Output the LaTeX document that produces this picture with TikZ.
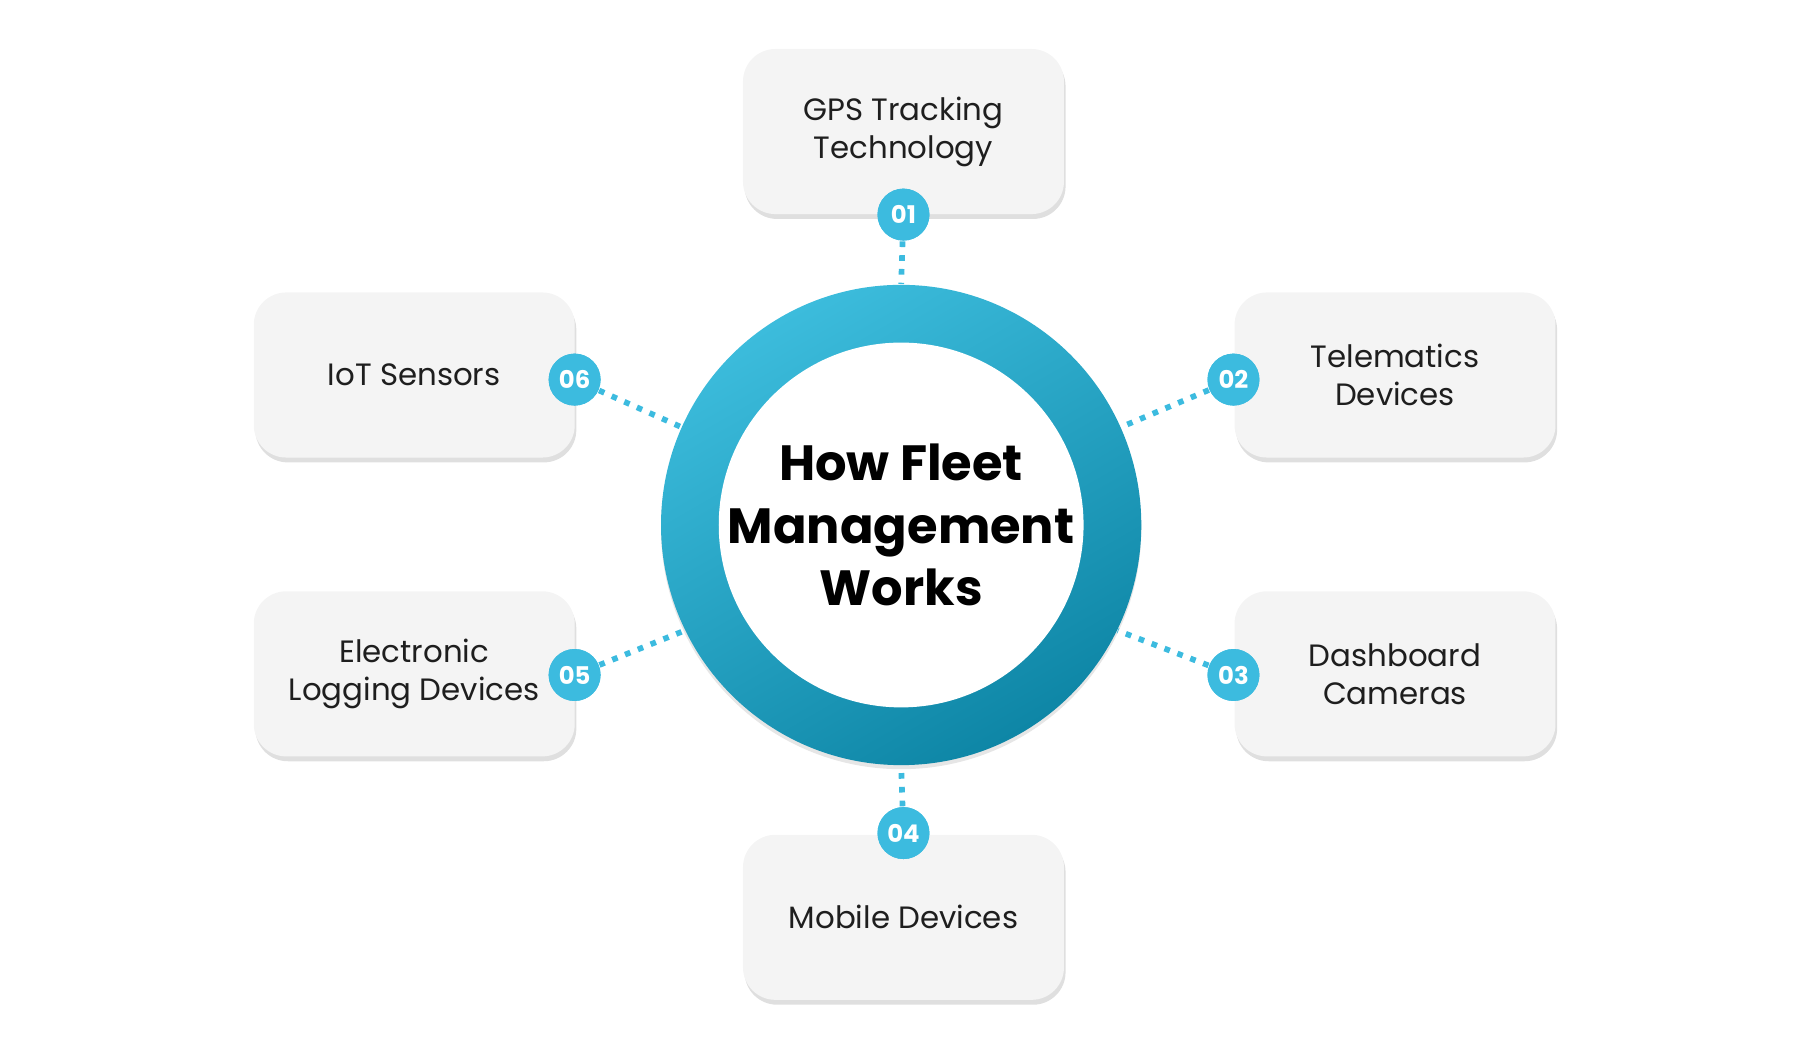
\documentclass[tikz,border=0pt]{standalone}
\usepackage{fontspec}
\setmainfont{Poppins}
\usetikzlibrary{shadows}
\definecolor{ringlight}{HTML}{3CBCDC}
\definecolor{ringdark}{HTML}{0E86A6}
\definecolor{badgecol}{HTML}{3CBBDF}
\definecolor{boxcol}{HTML}{F4F4F4}
\definecolor{txtcol}{HTML}{1E1E1E}
\tikzstyle{card}=[rectangle,rounded corners=8pt,fill=boxcol,minimum width=2.78cm,minimum height=1.43cm,
  align=center,font=\fontsize{7.6}{9.4}\selectfont,text=txtcol,
  drop shadow={opacity=0.25,shadow xshift=0.4pt,shadow yshift=-1.2pt}]
\tikzstyle{badge}=[circle,fill=badgecol,minimum size=0.45cm,inner sep=0,text=white,
  font=\fontsize{6}{7}\selectfont\bfseries]
\tikzstyle{link}=[badgecol,line width=1.4pt,dotted]

\begin{document}
\begin{tikzpicture}[x=0.01cm,y=-0.01cm]
  \useasboundingbox (0,0) rectangle (1560,901);

  % RING
  \node[circle,minimum size=4.16cm,inner sep=0,top color=ringlight,bottom color=ringdark,
        shading angle=30,drop shadow={opacity=0.2,shadow yshift=-1pt,shadow xshift=0pt}] (hub) at (781,455) {};
  \node[circle,fill=white,minimum size=3.16cm,inner sep=0] (core) at (hub) {};
  \node[align=center,text=black,font=\fontsize{12.2}{15.4}\selectfont\bfseries] (title) at (core)
        {How Fleet\\Management\\Works};

  % CARDS
  \node[card] (gps)  at (783,114) {GPS Tracking\\Technology};
  \node[card] (tel)  at (1209,325) {Telematics\\Devices};
  \node[card] (dash) at (1209,584) {Dashboard\\Cameras};
  \node[card] (mob)  at (783,795) {Mobile Devices};
  \node[card] (eld)  at (359,584) {Electronic\\Logging Devices};
  \node[card] (iot)  at (359,325) {IoT Sensors};

  % BADGES
  \foreach \name/\x/\y/\ang [count=\i] in {b1/783/186/90, b2/1069/329/24, b3/1069/585/-26,
                                          b4/783/722/-90, b5/498/585/206, b6/498/329/156}{
    \node[badge] (\name) at (\x,\y) {0\i};
    \draw[link] (\name) -- (hub.\ang);
    \node[badge] at (\name) {0\i};
  }

\end{tikzpicture}
\end{document}
